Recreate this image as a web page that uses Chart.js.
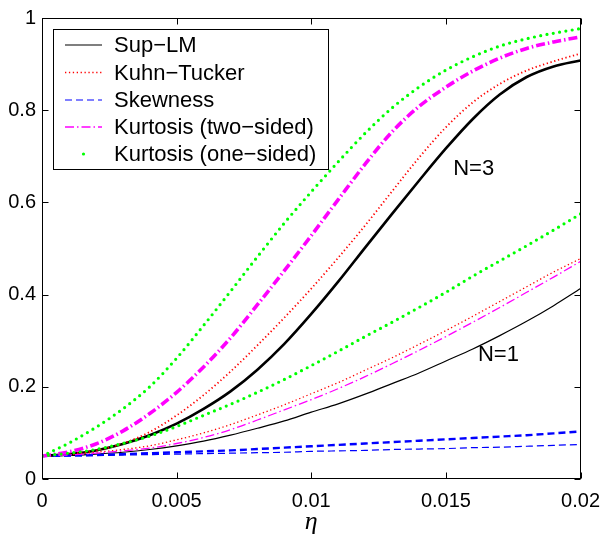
<!DOCTYPE html>
<html>
<head>
<meta charset="utf-8">
<script src="https://cdn.jsdelivr.net/npm/chart.js@4"></script>
<style>
html, body { margin: 0; padding: 0; background: #ffffff; }
#wrap { width: 610px; height: 550px; }
</style>
</head>
<body>
<div id="wrap"><canvas id="c" width="610" height="550"></canvas></div>
<script>
// Rejection frequency against eta, for N=1 and N=3
const eta = [0, 0.001, 0.002, 0.003, 0.004, 0.005, 0.006, 0.007, 0.008, 0.009, 0.010,
             0.011, 0.012, 0.013, 0.014, 0.015, 0.016, 0.017, 0.018, 0.019, 0.020];
const xTicks = [0, 0.005, 0.01, 0.015, 0.02];
const yTicks = [0, 0.2, 0.4, 0.6, 0.8, 1];

const supLM_N3   = [0.050, 0.054, 0.062, 0.076, 0.095, 0.120, 0.152, 0.190, 0.237, 0.293, 0.358,
                    0.428, 0.502, 0.575, 0.647, 0.717, 0.781, 0.834, 0.872, 0.895, 0.908];
const kuhnT_N3   = [0.050, 0.054, 0.062, 0.077, 0.102, 0.138, 0.182, 0.233, 0.290, 0.350, 0.413,
                    0.480, 0.550, 0.624, 0.697, 0.763, 0.817, 0.857, 0.886, 0.906, 0.923];
const skew_N3    = [0.050, 0.051, 0.052, 0.054, 0.056, 0.058, 0.060, 0.062, 0.065, 0.068, 0.071,
                    0.074, 0.077, 0.080, 0.083, 0.086, 0.089, 0.092, 0.095, 0.099, 0.103];
const kurt2_N3   = [0.050, 0.059, 0.076, 0.104, 0.142, 0.188, 0.243, 0.306, 0.378, 0.452, 0.528,
                    0.606, 0.683, 0.753, 0.808, 0.850, 0.885, 0.913, 0.934, 0.948, 0.959];
const kurt1_N3   = [0.050, 0.078, 0.112, 0.152, 0.200, 0.262, 0.333, 0.407, 0.482, 0.555, 0.623,
                    0.688, 0.750, 0.805, 0.850, 0.887, 0.916, 0.939, 0.955, 0.967, 0.977];

const supLM_N1   = [0.050, 0.051, 0.054, 0.058, 0.064, 0.072, 0.082, 0.095, 0.110, 0.126, 0.145,
                    0.163, 0.184, 0.207, 0.230, 0.256, 0.282, 0.311, 0.342, 0.376, 0.413];
const kuhnT_N1   = [0.050, 0.053, 0.058, 0.064, 0.072, 0.085, 0.100, 0.118, 0.139, 0.161, 0.185,
                    0.209, 0.236, 0.263, 0.292, 0.322, 0.353, 0.385, 0.417, 0.449, 0.478];
const skew_N1    = [0.050, 0.050, 0.051, 0.052, 0.053, 0.054, 0.055, 0.056, 0.057, 0.058, 0.060,
                    0.061, 0.062, 0.064, 0.065, 0.066, 0.068, 0.069, 0.071, 0.073, 0.075];
const kurt2_N1   = [0.050, 0.052, 0.056, 0.061, 0.067, 0.077, 0.090, 0.107, 0.128, 0.150, 0.172,
                    0.196, 0.222, 0.250, 0.279, 0.309, 0.340, 0.372, 0.405, 0.438, 0.472];
const kurt1_N1   = [0.050, 0.056, 0.064, 0.077, 0.093, 0.114, 0.138, 0.162, 0.188, 0.216, 0.246,
                    0.277, 0.309, 0.340, 0.372, 0.405, 0.440, 0.473, 0.506, 0.540, 0.575];

const testNames = ['Sup\u2212LM', 'Kuhn\u2212Tucker', 'Skewness',
                   'Kurtosis (two\u2212sided)', 'Kurtosis (one\u2212sided)'];
const curveNotes = [
  { text: 'N=3', x: 0.01603, y: 0.672 },
  { text: 'N=1', x: 0.01695, y: 0.269 }
];

// line style per test: [colour, dash, width for N=3, width for N=1, cap]
const looks = [
  ['#000000', [], 2.6, 1.2, 'butt'],
  ['#ff0000', [1.3, 2.6], 1.8, 1.3, 'butt'],
  ['#0000ff', [7, 4], 2.4, 1.2, 'butt'],
  ['#ff00ff', [9, 3, 1.5, 3], 3.6, 1.3, 'butt'],
  ['#00ff00', [0, 6.4], 3.2, 3.2, 'round']
];

const n3 = [supLM_N3, kuhnT_N3, skew_N3, kurt2_N3, kurt1_N3];
const n1 = [supLM_N1, kuhnT_N1, skew_N1, kurt2_N1, kurt1_N1];

function makeSet(vals, k, wide) {
  const [col, dash, w3, w1, cap] = looks[k];
  return {
    label: testNames[k] + (wide ? ' N=3' : ' N=1'),
    data: eta.map((e, i) => ({ x: e, y: vals[i] })),
    borderColor: col,
    backgroundColor: col,
    borderWidth: wide ? w3 : w1,
    borderDash: dash,
    borderCapStyle: cap,
    pointRadius: 0,
    fill: false,
    cubicInterpolationMode: 'monotone',
    order: 10 - k
  };
}

const datasets = [];
for (let k = 0; k < 5; k++) {
  datasets.push(makeSet(n1[k], k, false));
  datasets.push(makeSet(n3[k], k, true));
}

const FONT = '"Liberation Sans", Arial, Helvetica, sans-serif';

// box, inward ticks, legend and text notes
const decorations = {
  id: 'decorations',
  afterDraw(chart) {
    const { ctx, chartArea: a, scales: { x, y } } = chart;
    ctx.save();
    ctx.setLineDash([]);
    ctx.strokeStyle = '#000';
    ctx.lineWidth = 1;
    const L = Math.round(a.left) + 0.5, R = Math.round(a.right) - 0.5;
    const T = Math.round(a.top) + 0.5, B = Math.round(a.bottom) - 0.5;
    ctx.strokeRect(L, T, R - L, B - T);
    const tl = 6;
    ctx.beginPath();
    xTicks.forEach(v => {
      const px = Math.round(x.getPixelForValue(v)) + 0.5;
      ctx.moveTo(px, B); ctx.lineTo(px, B - tl);
      ctx.moveTo(px, T); ctx.lineTo(px, T + tl);
    });
    yTicks.forEach(v => {
      const py = Math.round(y.getPixelForValue(v)) + 0.5;
      ctx.moveTo(L, py); ctx.lineTo(L + tl, py);
      ctx.moveTo(R, py); ctx.lineTo(R - tl, py);
    });
    ctx.stroke();

    // legend
    const lx = 53, ly = 29, lw = 275, lh = 140;
    ctx.fillStyle = '#fff';
    ctx.fillRect(lx, ly, lw, lh);
    ctx.strokeRect(lx + 0.5, ly + 0.5, lw, lh);
    ctx.font = '22px ' + FONT;
    ctx.textBaseline = 'middle';
    ctx.textAlign = 'left';
    const rowY = [45, 72.5, 100, 127, 154];
    testNames.forEach((name, k) => {
      const [col, dash, w3, w1, cap] = looks[k];
      const yy = rowY[k];
      ctx.strokeStyle = col;
      ctx.fillStyle = col;
      if (k === 4) {
        ctx.beginPath();
        ctx.arc(83.5, yy, 1.6, 0, Math.PI * 2);
        ctx.fill();
      } else {
        ctx.setLineDash(dash);
        ctx.lineWidth = w1;
        ctx.lineCap = cap;
        ctx.beginPath();
        ctx.moveTo(65, yy); ctx.lineTo(102, yy);
        ctx.stroke();
        ctx.setLineDash([]);
      }
      ctx.fillStyle = '#000';
      ctx.fillText(name, 114, yy + 1);
    });

    // curve group notes
    ctx.textAlign = 'center';
    ctx.fillStyle = '#000';
    curveNotes.forEach(n => {
      ctx.fillText(n.text, x.getPixelForValue(n.x), y.getPixelForValue(n.y));
    });

    // axis title
    ctx.font = 'italic 26px "Liberation Serif", "DejaVu Serif", serif';
    ctx.fillText('\u03b7', (a.left + a.right) / 2, 522);
    ctx.restore();
  }
};

new Chart(document.getElementById('c'), {
  type: 'line',
  data: { datasets },
  options: {
    responsive: false,
    devicePixelRatio: 1,
    animation: false,
    events: [],
    layout: { padding: { top: 15, right: 24, left: 0, bottom: 0 } },
    plugins: { legend: { display: false }, tooltip: { enabled: false } },
    scales: {
      x: {
        type: 'linear',
        min: 0, max: 0.02,
        grid: { display: false, drawTicks: false },
        border: { display: false },
        afterBuildTicks: s => { s.ticks = xTicks.map(v => ({ value: v })); },
        afterFit: s => { s.height = 71; },
        ticks: {
          color: '#000', padding: 10, maxRotation: 0,
          font: { family: FONT, size: 20 },
          callback: v => String(v)
        }
      },
      y: {
        type: 'linear',
        min: 0, max: 1,
        grid: { display: false, drawTicks: false },
        border: { display: false },
        afterBuildTicks: s => { s.ticks = yTicks.map(v => ({ value: v })); },
        afterFit: s => { s.width = 42; },
        ticks: {
          color: '#000', padding: 6,
          font: { family: FONT, size: 20 },
          callback: v => String(v)
        }
      }
    }
  },
  plugins: [decorations]
});
</script>
</body>
</html>
